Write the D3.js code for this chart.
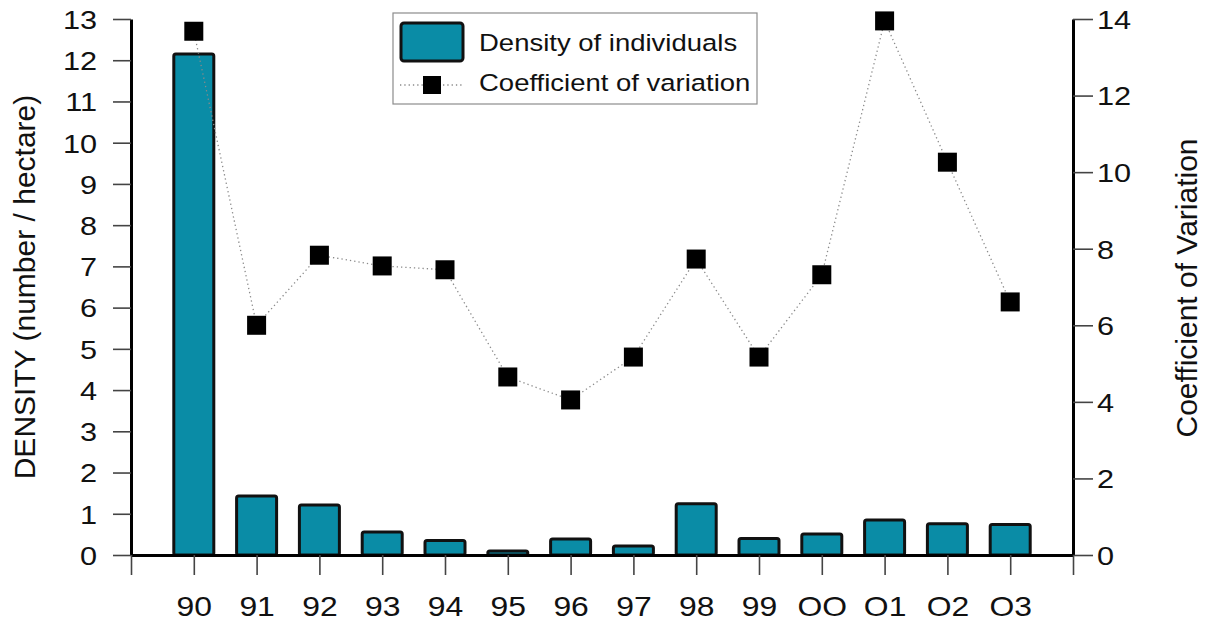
<!DOCTYPE html>
<html>
<head>
<meta charset="utf-8">
<script src="https://cdn.jsdelivr.net/npm/d3@7"></script>
<style>
  html, body { margin: 0; padding: 0; background: #fff; }
  svg { display: block; font-family: "Liberation Sans", Arial, sans-serif; }
</style>
</head>
<body>
<svg id="chart" width="1206" height="623"></svg>
<script>
// Survey years (labels as printed on the axis)
const years = ["90", "91", "92", "93", "94", "95", "96", "97", "98", "99", "OO", "O1", "O2", "O3"];
// Density of individuals (number / hectare)
const density = [12.15, 1.43, 1.21, 0.56, 0.35, 0.10, 0.39, 0.22, 1.24, 0.40, 0.51, 0.85, 0.76, 0.74];
// Coefficient of variation
const cv = [13.68, 6.00, 7.83, 7.55, 7.45, 4.65, 4.05, 5.17, 7.73, 5.17, 7.32, 13.95, 10.26, 6.61];
// Axis tick values
const densityTicks = d3.range(0, 14);
const cvTicks = [0, 2, 4, 6, 8, 10, 12, 14];

const svg = d3.select("#chart");
const plotLeft = 131, plotRight = 1073, plotTop = 19, base = 555;
const SX = 1.18;           // horizontal stretch applied to horizontal texts
const teal = "#0a8ca6";

// x: slot positions 0..15, years sit on 1..14
const x = d3.scaleLinear().domain([0, years.length + 1]).range([plotLeft, plotRight]);
const yL = d3.scaleLinear().domain([0, 13]).range([base, plotTop]);
const yR = d3.scaleLinear().domain([0, 14]).range([base, plotTop]);

function styleAxis(g) {
  g.select(".domain").attr("stroke", "#000").attr("stroke-width", 3);
  g.selectAll(".tick line").attr("stroke", "#444").attr("stroke-width", 1.6);
  g.selectAll(".tick text").attr("fill", "#111").attr("font-family", "Liberation Sans, Arial, sans-serif");
}

// stretch tick text horizontally around its anchor point
function stretchText(sel) {
  sel.each(function () {
    const t = d3.select(this);
    const tx = +t.attr("x") || 0;
    t.attr("x", 0).attr("transform", `translate(${tx},0) scale(${SX},1)`);
  });
}

// Bars
svg.append("g").selectAll("rect")
  .data(density)
  .join("rect")
  .attr("x", (d, i) => x(i + 1) - 20)
  .attr("width", 40)
  .attr("y", d => yL(d))
  .attr("height", d => base - yL(d))
  .attr("rx", 2)
  .attr("fill", teal)
  .attr("stroke", "#111")
  .attr("stroke-width", 3);

// Left axis
const gL = svg.append("g").attr("transform", `translate(${plotLeft},0)`)
  .call(d3.axisLeft(yL).tickValues(densityTicks).tickSize(18).tickSizeOuter(0).tickPadding(16).tickFormat(d3.format("d")));
styleAxis(gL);
gL.selectAll(".tick text").attr("font-size", 26).attr("dy", "0.36em").call(stretchText);

// Right axis
const gR = svg.append("g").attr("transform", `translate(${plotRight},0)`)
  .call(d3.axisRight(yR).tickValues(cvTicks).tickSize(20).tickSizeOuter(0).tickPadding(4).tickFormat(d3.format("d")));
styleAxis(gR);
gR.selectAll(".tick text").attr("font-size", 26).attr("dy", "0.36em").call(stretchText);

// Bottom axis
const gX = svg.append("g").attr("transform", `translate(0,${base})`)
  .call(d3.axisBottom(x).tickValues(d3.range(0, years.length + 2)).tickSize(20).tickSizeOuter(0).tickPadding(22)
    .tickFormat(i => (i >= 1 && i <= years.length) ? years[i - 1] : ""));
styleAxis(gX);
gX.selectAll(".tick text").attr("font-size", 27).call(stretchText);

// Coefficient of variation line (dotted) and square markers
const line = d3.line().x((d, i) => x(i + 1)).y(d => yR(d));
svg.append("path")
  .datum(cv)
  .attr("d", line)
  .attr("fill", "none")
  .attr("stroke", "#8a8a8a")
  .attr("stroke-width", 1.3)
  .attr("stroke-dasharray", "1.3,3");

const ms = 19;
svg.append("g").selectAll("rect")
  .data(cv)
  .join("rect")
  .attr("x", (d, i) => x(i + 1) - ms / 2)
  .attr("y", d => yR(d) - ms / 2)
  .attr("width", ms)
  .attr("height", ms)
  .attr("fill", "#000");

// Axis titles
svg.append("text")
  .attr("transform", "translate(35,287) rotate(-90)")
  .attr("text-anchor", "middle")
  .attr("font-size", 30)
  .attr("fill", "#111")
  .text("DENSITY (number / hectare)");

svg.append("text")
  .attr("transform", "translate(1197,288) rotate(-90)")
  .attr("text-anchor", "middle")
  .attr("font-size", 30)
  .attr("fill", "#111")
  .text("Coefficient of Variation");

// Legend
const lg = svg.append("g");
lg.append("rect")
  .attr("x", 393).attr("y", 13).attr("width", 364).attr("height", 91)
  .attr("fill", "#fff").attr("stroke", "#8c8c8c").attr("stroke-width", 1.2);
lg.append("rect")
  .attr("x", 401).attr("y", 23).attr("width", 62).attr("height", 38).attr("rx", 3)
  .attr("fill", teal).attr("stroke", "#111").attr("stroke-width", 3);
lg.append("line")
  .attr("x1", 400).attr("x2", 463).attr("y1", 85).attr("y2", 85)
  .attr("stroke", "#8a8a8a").attr("stroke-width", 1.3).attr("stroke-dasharray", "1.3,3");
lg.append("rect")
  .attr("x", 423).attr("y", 76).attr("width", 18).attr("height", 18).attr("fill", "#000");
const legendItems = ["Density of individuals", "Coefficient of variation"];
lg.selectAll("text.item")
  .data(legendItems)
  .join("text")
  .attr("class", "item")
  .attr("transform", (d, i) => `translate(479,${51 + i * 40}) scale(1.17,1)`)
  .attr("font-size", 23.5)
  .attr("fill", "#111")
  .text(d => d);
</script>
</body>
</html>
